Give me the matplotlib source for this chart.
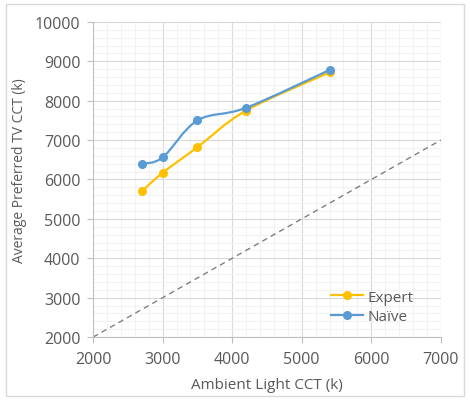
import numpy as np
import matplotlib
matplotlib.use('Agg')
import matplotlib.pyplot as plt
from matplotlib.path import Path
from matplotlib.patches import PathPatch, Rectangle
from matplotlib.lines import Line2D

# data
ambient = [2700, 3000, 3500, 4200, 5400]
expert = [5700, 6170, 6820, 7750, 8720]
naive = [6400, 6560, 7500, 7820, 8780]
ref_x = [2000, 7000]
ref_y = [2000, 7000]

c_exp = '#FFC000'
c_nai = '#5B9BD5'
txt = '#595959'

plt.rcParams['font.family'] = ['Open Sans', 'DejaVu Sans']


def smooth_path(xs, ys):
    # excel-like smoothed line: bezier segments through the points
    p = np.column_stack([xs, ys]).astype(float)
    n = len(p)
    verts = [p[0]]
    codes = [Path.MOVETO]
    for i in range(n - 1):
        p0 = p[i - 1] if i > 0 else p[i]
        p3 = p[i + 2] if i + 2 < n else p[i + 1]
        c1 = p[i] + (p[i + 1] - p0) / 6.0
        c2 = p[i + 1] - (p3 - p[i]) / 6.0
        verts += [c1, c2, p[i + 1]]
        codes += [Path.CURVE4] * 3
    return Path(verts, codes)


fig = plt.figure(figsize=(4.7, 4.02), dpi=100)
fig.patches.append(Rectangle((0.012, 0.012), 0.976, 0.976, transform=fig.transFigure,
                             fill=False, edgecolor='#D9D9D9', linewidth=1))
ax = fig.add_axes([0.198, 0.159, 0.740, 0.784])

ax.set_xlim(2000, 7000)
ax.set_ylim(2000, 10000)
ax.set_xticks(np.arange(2000, 7001, 1000))
ax.set_yticks(np.arange(2000, 10001, 1000))
ax.set_xticks(np.arange(2000, 7001, 200), minor=True)
ax.set_yticks(np.arange(2000, 10001, 200), minor=True)
ax.grid(which='minor', color='#F2F2F2', linewidth=0.8)
ax.grid(which='major', color='#D9D9D9', linewidth=0.8)
ax.set_axisbelow(True)

for s in ['top', 'right']:
    ax.spines[s].set_visible(False)
for s in ['left', 'bottom']:
    ax.spines[s].set_color('#BFBFBF')
    ax.spines[s].set_linewidth(0.8)
ax.tick_params(which='major', length=4, color='#BFBFBF', labelcolor=txt, labelsize=11.5)
ax.tick_params(axis='x', pad=6)
ax.tick_params(axis='y', pad=5)
ax.tick_params(which='minor', length=0)

ax.plot(ref_x, ref_y, color='#808080', linestyle=(0, (4, 3)), linewidth=1.0)

for xs, ys, c in [(ambient, expert, c_exp), (ambient, naive, c_nai)]:
    ax.add_patch(PathPatch(smooth_path(xs, ys), facecolor='none', edgecolor=c,
                           linewidth=1.6, zorder=3))
    ax.plot(xs, ys, linestyle='none', marker='o', markersize=5.5, color=c, zorder=4)

handles = [Line2D([], [], color=c_exp, marker='o', markersize=5.5, linewidth=1.6),
           Line2D([], [], color=c_nai, marker='o', markersize=5.5, linewidth=1.6)]
leg = ax.legend(handles, ['Expert', 'Naïve'], loc='upper left', bbox_to_anchor=(0.684, 0.15),
                frameon=False, fontsize=11, handlelength=2.1, handletextpad=0.27,
                labelspacing=0.3, borderpad=0, borderaxespad=0)
for t in leg.get_texts():
    t.set_color(txt)

ax.set_xlabel('Ambient Light CCT (k)', color=txt, fontsize=11, labelpad=7)
ax.set_ylabel('Average Preferred TV CCT (k)', color=txt, fontsize=10)
ax.yaxis.set_label_coords(-0.19, 0.53)

plt.savefig('out.png', dpi=100)
